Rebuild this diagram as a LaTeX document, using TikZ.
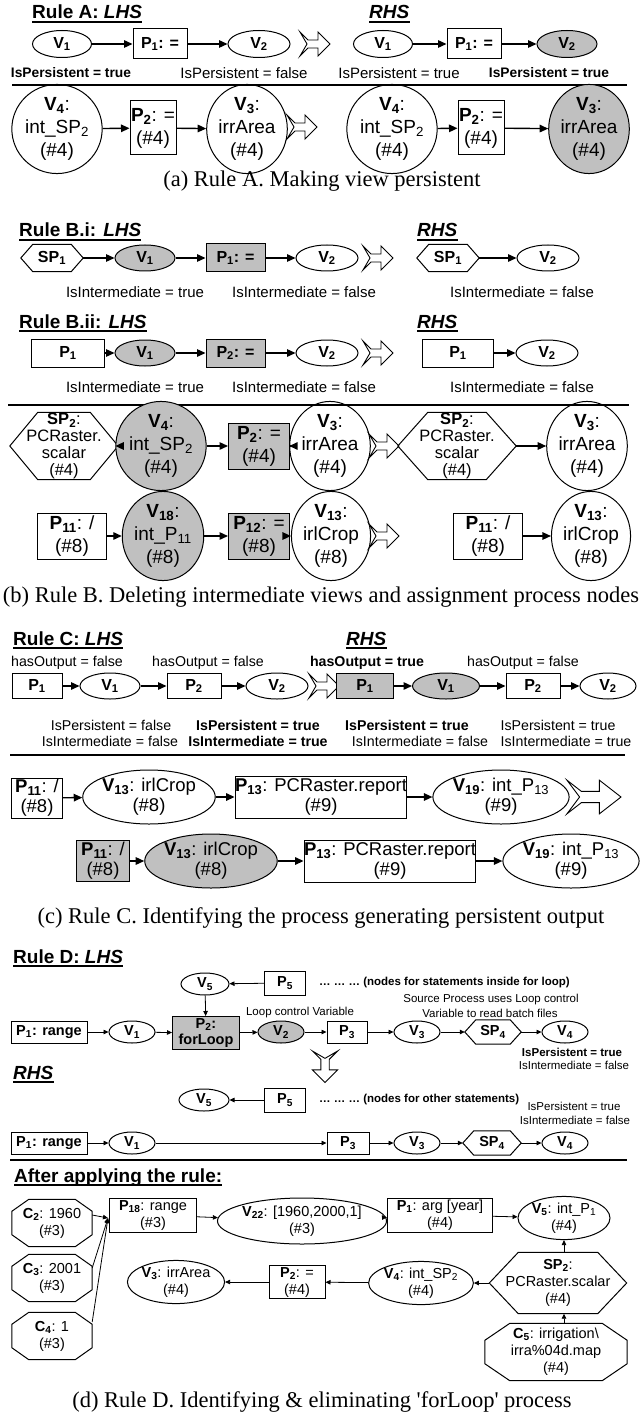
\documentclass[tikz,border=0pt]{standalone}
\usepackage{fontspec}
\setmainfont{Liberation Sans}
\newfontfamily\capfont{Liberation Serif}
\usetikzlibrary{shapes.geometric,arrows.meta,calc}
\definecolor{ng}{RGB}{192,192,192}
\newcommand\sub[1]{\textsubscript{#1}}
\newcommand\hexout[2]{\draw[shp] (#1.west) -- ([xshift=#2]#1.north west) -- ([xshift=-#2]#1.north east) -- (#1.east) -- ([xshift=-#2]#1.south east) -- ([xshift=#2]#1.south west) -- cycle;}
\newcommand\octout[3]{\draw[shp] ([xshift=#2]#1.north west) -- ([xshift=-#2]#1.north east) -- ([yshift=-#3]#1.north east) -- ([yshift=#3]#1.south east) -- ([xshift=-#2]#1.south east) -- ([xshift=#2]#1.south west) -- ([yshift=#3]#1.south west) -- ([yshift=-#3]#1.north west) -- cycle;}
\newcommand\ulin[1]{\draw[line width=1.8pt] ([yshift=-3pt]#1.base west) -- ([yshift=-3pt]#1.base east);}
\tikzset{
  shp/.style={line width=1pt},
  ell/.style={shape=ellipse, draw, line width=1pt, inner sep=0pt},
  box/.style={shape=rectangle, draw, line width=1pt, inner sep=0pt},
  hexn/.style={shape=rectangle, inner sep=0pt},
  gr/.style={fill=ng},
  ar/.style={-{Triangle[length=8.5pt,width=7.5pt]}, line width=1.4pt},
  ard/.style={-{Triangle[length=5pt,width=4.5pt]}, line width=0.8pt},
  sepline/.style={line width=2.4pt},
  head/.style={anchor=base west, inner sep=0pt, font=\fontsize{19}{21}\selectfont\bfseries},
  lab/.style={inner sep=0pt, font=\fontsize{15}{17}\selectfont},
  labb/.style={inner sep=0pt, font=\fontsize{13.8}{16}\selectfont\bfseries},
  nb/.style={font=\fontsize{16}{18}\selectfont\bfseries},
  bigt/.style={font=\fontsize{19}{23}\selectfont, align=center},
  hext/.style={font=\fontsize{16.5}{17}\selectfont, align=center},
  ct/.style={font=\fontsize{18.5}{20}\selectfont, align=center},
  clab/.style={inner sep=0pt, font=\fontsize{14.2}{16}\selectfont},
  clabb/.style={inner sep=0pt, font=\fontsize{14.2}{16}\selectfont\bfseries},
  dl/.style={font=\fontsize{14.5}{16}\selectfont\bfseries, align=center},
  ds/.style={inner sep=0pt, font=\fontsize{11.5}{13}\selectfont},
  dsb/.style={inner sep=0pt, font=\fontsize{11.5}{13}\selectfont\bfseries},
  dt/.style={font=\fontsize{14.5}{17}\selectfont, align=center},
  captxt/.style={inner sep=0pt, font=\fontsize{22.5}{24}\selectfont\capfont},
  hollowarrow/.pic={\draw[line width=0.9pt, line join=miter, fill=white] (0,-12) -- (8,-4) -- (18,-4) -- (18,-12) -- (30,0) -- (18,12) -- (18,4) -- (8,4) -- (0,12) -- (7,0) -- cycle;}
}
\begin{document}
\begin{tikzpicture}[x=1pt,y=-1pt]
\useasboundingbox[fill=white] (0,0) rectangle (641,1420);

% ================= (a) =================
\node[head] (hA) at (32,19) {Rule A: \textit{LHS}};\ulin{hA}
\node[head] (hAr) at (369,19) {\textit{RHS}};\ulin{hAr}
\node[ell,nb,minimum width=59,minimum height=27] (a1) at (62,44) {V\sub{1}};
\node[box,nb,minimum width=54,minimum height=30] (a2) at (160,44) {P\sub{1}: =};
\node[ell,nb,minimum width=62,minimum height=27] (a3) at (259,44) {V\sub{2}};
\pic at (300,44) {hollowarrow};
\node[ell,nb,minimum width=59,minimum height=27] (a4) at (383,44) {V\sub{1}};
\node[box,nb,minimum width=54,minimum height=30] (a5) at (474,44) {P\sub{1}: =};
\node[ell,gr,nb,minimum width=60,minimum height=27] (a6) at (567,44) {V\sub{2}};
\draw[ar] (a1) -- (a2); \draw[ar] (a2) -- (a3);
\draw[ar] (a4) -- (a5); \draw[ar] (a5) -- (a6);
\node[labb] (la1) at (71,73) {IsPersistent = true};
\node[lab] (la2) at (244,73) {IsPersistent = false};
\node[lab] (la3) at (399,73) {IsPersistent = true};
\node[labb] (la4) at (549,73) {IsPersistent = true};
\draw[sepline] (12,85) -- (627,85);
\node[ell,bigt,minimum width=73,minimum height=70] (a7) at (57,129) {{\bfseries V\sub{4}}:\\int\_SP\sub{2}\\(\#4)};
\node[box,bigt,minimum width=46,minimum height=54] (a8) at (153,128) {{\bfseries P\sub{2}}: =\\(\#4)};
\node[ell,bigt,minimum width=73,minimum height=70] (a9) at (247,129) {{\bfseries V\sub{3}}:\\irrArea\\(\#4)};
\pic at (287,127) {hollowarrow};
\node[ell,bigt,minimum width=73,minimum height=70] (a10) at (392,129) {{\bfseries V\sub{4}}:\\int\_SP\sub{2}\\(\#4)};
\node[box,bigt,minimum width=46,minimum height=54] (a11) at (481,128) {{\bfseries P\sub{2}}: =\\(\#4)};
\node[ell,gr,bigt,minimum width=75,minimum height=70] (a12) at (589,129) {{\bfseries V\sub{3}}:\\irrArea\\(\#4)};
\draw[ar] (a7) -- (a8); \draw[ar] (a8) -- (a9);
\draw[ar] (a10) -- (a11); \draw[ar] (a11) -- (a12);
\node[captxt] (capa) at (322,181) {(a) Rule A. Making view persistent};

% ================= (b) =================
\node[head] (hB1) at (19,237) {Rule B.i: \textit{LHS}};\ulin{hB1}
\node[head] (hB1r) at (417,237) {\textit{RHS}};\ulin{hB1r}
\node[hexn,nb,minimum width=62,minimum height=27] (b1) at (52,258) {SP\sub{1}};\hexout{b1}{12}
\node[ell,gr,nb,minimum width=60,minimum height=26] (b2) at (145,258) {V\sub{1}};
\node[box,gr,nb,minimum width=59,minimum height=28] (b3) at (235.5,258) {P\sub{1}: =};
\node[ell,nb,minimum width=62,minimum height=26] (b4) at (327,258) {V\sub{2}};
\pic at (363,258) {hollowarrow};
\node[hexn,nb,minimum width=62,minimum height=27] (b5) at (448,258) {SP\sub{1}};\hexout{b5}{12}
\node[ell,nb,minimum width=62,minimum height=26] (b6) at (548,258) {V\sub{2}};
\draw[ar] (b1) -- (b2); \draw[ar] (b2) -- (b3); \draw[ar] (b3) -- (b4);
\draw[ar] (b5) -- (b6);
\node[lab] (lb1) at (135,292) {IsIntermediate = true};
\node[lab] (lb2) at (304,292) {IsIntermediate = false};
\node[lab] (lb3) at (522,292) {IsIntermediate = false};

\node[head] (hB2) at (19,328) {Rule B.ii: \textit{LHS}};\ulin{hB2}
\node[head] (hB2r) at (417,328) {\textit{RHS}};\ulin{hB2r}
\node[box,nb,minimum width=73,minimum height=28] (b7) at (68,353) {P\sub{1}};
\node[ell,gr,nb,minimum width=60,minimum height=26] (b8) at (145,353) {V\sub{1}};
\node[box,gr,nb,minimum width=59,minimum height=28] (b9) at (235.5,353) {P\sub{2}: =};
\node[ell,nb,minimum width=62,minimum height=26] (b10) at (327,353) {V\sub{2}};
\pic at (363,353) {hollowarrow};
\node[box,nb,minimum width=71,minimum height=28] (b11) at (458,353) {P\sub{1}};
\node[ell,nb,minimum width=62,minimum height=26] (b12) at (547,353) {V\sub{2}};
\draw[ar] (b7) -- (b8); \draw[ar] (b8) -- (b9); \draw[ar] (b9) -- (b10);
\draw[ar] (b11) -- (b12);
\node[lab] (lb4) at (135,387) {IsIntermediate = true};
\node[lab] (lb5) at (304,387) {IsIntermediate = false};
\node[lab] (lb6) at (522,387) {IsIntermediate = false};
\draw[sepline] (8,405) -- (629,405);

\node[hexn,hext,minimum width=108,minimum height=67] (b13) at (64,446) {{\bfseries SP\sub{2}}:\\PCRaster.\\scalar\\(\#4)};\hexout{b13}{28}
\node[ell,gr,bigt,minimum width=73,minimum height=70] (b14) at (161,446) {{\bfseries V\sub{4}}:\\int\_SP\sub{2}\\(\#4)};
\node[box,gr,bigt,minimum width=61,minimum height=46] (b15) at (259,446) {{\bfseries P\sub{2}}: =\\(\#4)};
\node[ell,bigt,minimum width=73,minimum height=70] (b16) at (330,446) {{\bfseries V\sub{3}}:\\irrArea\\(\#4)};
\pic at (369,446) {hollowarrow};
\node[hexn,hext,minimum width=118,minimum height=67] (b17) at (457,446) {{\bfseries SP\sub{2}}:\\PCRaster.\\scalar\\(\#4)};\hexout{b17}{30}
\node[ell,bigt,minimum width=73,minimum height=70] (b18) at (587,446) {{\bfseries V\sub{3}}:\\irrArea\\(\#4)};
\draw[ar] (b13) -- (b14); \draw[ar] (b14) -- (b15); \draw[ar] (b15) -- (b16);
\draw[ar] (b17) -- (b18);

\node[box,bigt,minimum width=69,minimum height=46] (b19) at (72,536) {{\bfseries P\sub{11}}: /\\(\#8)};
\node[ell,gr,bigt,minimum width=78,minimum height=70] (b20) at (163,536) {{\bfseries V\sub{18}}:\\int\_P\sub{11}\\(\#8)};
\node[box,gr,bigt,minimum width=61,minimum height=46] (b21) at (259,536) {{\bfseries P\sub{12}}: =\\(\#8)};
\node[ell,bigt,minimum width=73,minimum height=70] (b22) at (331,536) {{\bfseries V\sub{13}}:\\irlCrop\\(\#8)};
\pic at (369,536) {hollowarrow};
\node[box,bigt,minimum width=69,minimum height=46] (b23) at (488,536) {{\bfseries P\sub{11}}: /\\(\#8)};
\node[ell,bigt,minimum width=73,minimum height=70] (b24) at (591,536) {{\bfseries V\sub{13}}:\\irlCrop\\(\#8)};
\draw[ar] (b19) -- (b20); \draw[ar] (b20) -- (b21); \draw[ar] (b21) -- (b22);
\draw[ar] (b23) -- (b24);
\node[captxt] (capb) at (321,597) {(b) Rule B. Deleting intermediate views and assignment process nodes};

% ================= (c) =================
\node[head] (hC) at (13,645) {Rule C: \textit{LHS}};\ulin{hC}
\node[head] (hCr) at (346,645) {\textit{RHS}};\ulin{hCr}
\node[clab] (lc1) at (67,663) {hasOutput = false};
\node[clab] (lc2) at (208,663) {hasOutput = false};
\node[clabb] (lc3) at (367,663) {hasOutput = true};
\node[clab] (lc4) at (523,663) {hasOutput = false};
\node[box,nb,minimum width=50,minimum height=25] (c1) at (37,686) {P\sub{1}};
\node[ell,nb,minimum width=60,minimum height=26] (c2) at (110,686) {V\sub{1}};
\node[box,nb,minimum width=54,minimum height=25] (c3) at (194,686) {P\sub{2}};
\node[ell,nb,minimum width=62,minimum height=26] (c4) at (277,686) {V\sub{2}};
\pic at (309,686) {hollowarrow};
\node[box,gr,nb,minimum width=57,minimum height=25] (c5) at (365,686) {P\sub{1}};
\node[ell,gr,nb,minimum width=67,minimum height=26] (c6) at (446,686) {V\sub{1}};
\node[box,nb,minimum width=54,minimum height=25] (c7) at (533,686) {P\sub{2}};
\node[ell,nb,minimum width=56,minimum height=26] (c8) at (608,686) {V\sub{2}};
\draw[ar] (c1) -- (c2); \draw[ar] (c2) -- (c3); \draw[ar] (c3) -- (c4);
\draw[ar] (c5) -- (c6); \draw[ar] (c6) -- (c7); \draw[ar] (c7) -- (c8);
\node[clab] (lc5) at (111,725) {IsPersistent = false};
\node[clabb] (lc6) at (258,725) {IsPersistent = true};
\node[clabb] (lc7) at (407,725) {IsPersistent = true};
\node[clab] (lc8) at (558,725) {IsPersistent = true};
\node[clab] (lc9) at (110,741) {IsIntermediate = false};
\node[clabb] (lc10) at (258,741) {IsIntermediate = true};
\node[clab] (lc11) at (420,741) {IsIntermediate = false};
\node[clab] (lc12) at (566,741) {IsIntermediate = true};
\draw[sepline] (10,755) -- (625,755);
\node[box,ct,minimum width=51,minimum height=40] (c9) at (37,798) {{\bfseries P\sub{11}}: /\\(\#8)};
\node[ell,ct,minimum width=118,minimum height=54] (c10) at (149,797) {{\bfseries V\sub{13}}: irlCrop\\(\#8)};
\node[box,ct,minimum width=171,minimum height=42] (c11) at (321,797) {{\bfseries P\sub{13}}: PCRaster.report\\(\#9)};
\node[ell,ct,minimum width=112,minimum height=54] (c12) at (501,797) {{\bfseries V\sub{19}}: int\_P\sub{13}\\(\#9)};
\pic[xscale=1.8,yscale=1.4] at (567,797) {hollowarrow};
\draw[ar] (c9) -- (c10); \draw[ar] (c10) -- (c11); \draw[ar] (c11) -- (c12);
\node[box,gr,ct,minimum width=53,minimum height=41] (c13) at (103,861) {{\bfseries P\sub{11}}: /\\(\#8)};
\node[ell,gr,ct,minimum width=113,minimum height=54] (c14) at (211,861) {{\bfseries V\sub{13}}: irlCrop\\(\#8)};
\node[box,ct,minimum width=171,minimum height=42] (c15) at (390,861) {{\bfseries P\sub{13}}: PCRaster.report\\(\#9)};
\node[ell,ct,minimum width=121,minimum height=54] (c16) at (571,861) {{\bfseries V\sub{19}}: int\_P\sub{13}\\(\#9)};
\draw[ar] (c13) -- (c14); \draw[ar] (c14) -- (c15); \draw[ar] (c15) -- (c16);
\node[captxt] (capc) at (321,918) {(c) Rule C. Identifying the process generating persistent output};

% ================= (d) =================
\node[head] (hD) at (13,963) {Rule D: \textit{LHS}};\ulin{hD}
\node[ell,dl,minimum width=48,minimum height=22] (d1) at (205,984) {V\sub{5}};
\node[box,dl,minimum width=41,minimum height=24] (d2) at (285,983) {P\sub{5}};
\node[dsb,anchor=west] (d3) at (319,983) {… … … (nodes for statements inside for loop)};
\node[box,gr,dl,minimum width=67,minimum height=33] (d4) at (206,1033) {P\sub{2}:\\forLoop};
\node[ds] (d5) at (300,1013) {Loop control Variable};
\node[ds] (d6) at (491,1000) {Source Process uses Loop control};
\node[ds] (d7) at (490,1013) {Variable to read batch files};
\node[box,dl,minimum width=76,minimum height=22] (d8) at (49,1032) {P\sub{1}: range};
\node[ell,dl,minimum width=46,minimum height=22] (d9) at (132,1032) {V\sub{1}};
\node[ell,gr,dl,minimum width=46,minimum height=22] (d10) at (281,1032) {V\sub{2}};
\node[box,dl,minimum width=40,minimum height=22] (d11) at (347,1032) {P\sub{3}};
\node[ell,dl,minimum width=46,minimum height=22] (d12) at (417,1032) {V\sub{3}};
\node[hexn,dl,minimum width=56,minimum height=24] (d13) at (493,1032) {SP\sub{4}};\hexout{d13}{11}
\node[ell,dl,minimum width=46,minimum height=22] (d14) at (565,1032) {V\sub{4}};
\draw[ard] (d2) -- (d1); \draw[ard] (d1) -- (d4);
\draw[ard] (d8) -- (d9); \draw[ard] (d9) -- (d4); \draw[ard] (d4) -- (d10);
\draw[ard] (d10) -- (d11); \draw[ard] (d11) -- (d12); \draw[ard] (d12) -- (d13); \draw[ard] (d13) -- (d14);
\node[dsb] (d15) at (572,1052) {IsPersistent = true};
\node[ds] (d16) at (574,1065) {IsIntermediate = false};
\pic[rotate=-90,scale=1.05] at (325,1051) {hollowarrow};
\node[head] (hDr) at (13,1079) {\textit{RHS}};\ulin{hDr}
\node[ell,dl,minimum width=50,minimum height=22] (d17) at (204,1100) {V\sub{5}};
\node[box,dl,minimum width=41,minimum height=24] (d18) at (285,1100) {P\sub{5}};
\node[dsb,anchor=west] (d19) at (319,1100) {… … … (nodes for other statements)};
\draw[ard] (d18) -- (d17);
\node[ds] (d20) at (574,1106) {IsPersistent = true};
\node[ds] (d21) at (575,1120) {IsIntermediate = false};
\node[box,dl,minimum width=76,minimum height=22] (d22) at (49,1143) {P\sub{1}: range};
\node[ell,dl,minimum width=46,minimum height=22] (d23) at (132,1143) {V\sub{1}};
\node[box,dl,minimum width=42,minimum height=22] (d24) at (348,1143) {P\sub{3}};
\node[ell,dl,minimum width=46,minimum height=22] (d25) at (417,1143) {V\sub{3}};
\node[hexn,dl,minimum width=58,minimum height=24] (d26) at (492,1143) {SP\sub{4}};\hexout{d26}{11}
\node[ell,dl,minimum width=46,minimum height=22] (d27) at (565,1143) {V\sub{4}};
\draw[ard] (d22) -- (d23); \draw[ard] (d23) -- (d24); \draw[ard] (d24) -- (d25);
\draw[ard] (d25) -- (d26); \draw[ard] (d26) -- (d27);
\draw[sepline] (10,1160) -- (627,1160);
\node[head] (hAf) at (14,1182) {After applying the rule:};\ulin{hAf}

\node[hexn,dt,minimum width=80,minimum height=47] (e1) at (52,1223) {{\bfseries C\sub{2}}: 1960\\(\#3)};\octout{e1}{17}{12}
\node[hexn,dt,minimum width=80,minimum height=47] (e2) at (52,1278) {{\bfseries C\sub{3}}: 2001\\(\#3)};\octout{e2}{17}{12}
\node[hexn,dt,minimum width=80,minimum height=47] (e3) at (52,1336) {{\bfseries C\sub{4}}: 1\\(\#3)};\octout{e3}{17}{12}
\node[box,dt,minimum width=87,minimum height=34] (e4) at (153,1215) {{\bfseries P\sub{18}}: range\\(\#3)};
\node[ell,dt,minimum width=162,minimum height=46] (e5) at (302,1221) {{\bfseries V\sub{22}}: [1960,2000,1]\\(\#3)};
\node[box,dt,minimum width=105,minimum height=34] (e6) at (440,1215) {{\bfseries P\sub{1}}: arg [year]\\(\#4)};
\node[ell,dt,minimum width=92,minimum height=42] (e7) at (564,1218) {{\bfseries V\sub{5}}: int\_P\sub{1}\\(\#4)};
\node[ell,dt,minimum width=82,minimum height=38] (e8) at (176,1282) {{\bfseries V\sub{3}}: irrArea\\(\#4)};
\node[box,dt,minimum width=56,minimum height=33] (e9) at (297,1282) {{\bfseries P\sub{2}}: =\\(\#4)};
\node[ell,dt,minimum width=103,minimum height=37] (e10) at (421,1283) {{\bfseries V\sub{4}}: int\_SP\sub{2}\\(\#4)};
\node[hexn,dt,minimum width=137,minimum height=61] (e11) at (558,1283) {{\bfseries SP\sub{2}}:\\PCRaster.scalar\\(\#4)};\hexout{e11}{29}
\node[hexn,dt,minimum width=142,minimum height=57] (e12) at (556,1352) {{\bfseries C\sub{5}}: irrigation\textbackslash\\irra\%04d.map\\(\#4)};\octout{e12}{25}{17}
\coordinate (conv) at ($(e4.west)+(-1,3)$);
\draw[ard] ([yshift=8]e1.east) -- (conv);
\draw[ard] ([yshift=10]e2.east) -- (conv);
\draw[ard] ([yshift=14]e3.east) -- (conv);
\draw[ard] (e4) -- (e5); \draw[ard] (e5) -- (e6); \draw[ard] (e6) -- (e7);
\draw[ard] (e11.north -| e7.south) -- (e7.south);
\draw[ard] (e12.north -| e7.south) -- (e11.south -| e7.south);
\draw[ard] (e11) -- (e10); \draw[ard] (e10) -- (e9); \draw[ard] (e9) -- (e8);
\node[captxt] (capd) at (322,1402) {(d) Rule D. Identifying \& eliminating 'forLoop' process};
\end{tikzpicture}
\end{document}
